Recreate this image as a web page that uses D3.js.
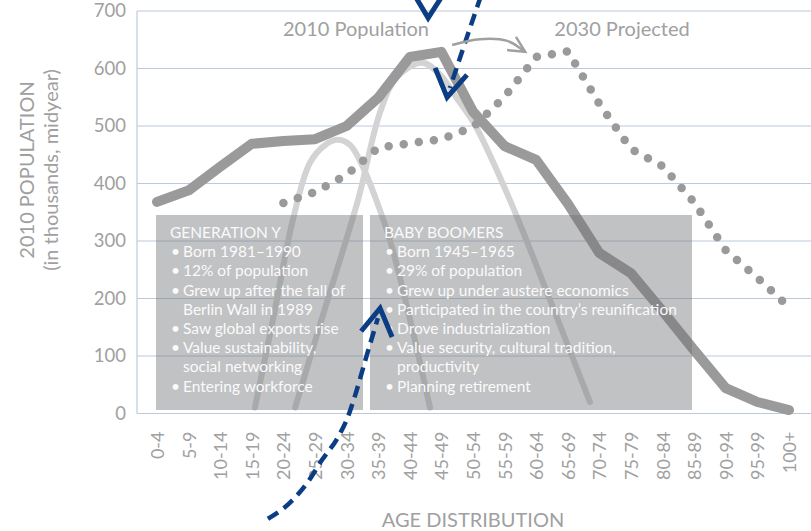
<!DOCTYPE html>
<html>
<head>
<meta charset="utf-8">
<script src="https://cdn.jsdelivr.net/npm/d3@7"></script>
<style>
  body { margin: 0; background: #fff; }
  svg { display: block; font-family: Lato, "Open Sans", sans-serif; }
</style>
</head>
<body>
<svg id="chart" width="811" height="531"></svg>
<script>
// Age groups on the horizontal axis
const ageGroups = ["0-4", "5-9", "10-14", "15-19", "20-24", "25-29", "30-34", "35-39", "40-44", "45-49",
  "50-54", "55-59", "60-64", "65-69", "70-74", "75-79", "80-84", "85-89", "90-94", "95-99", "100+"];

// 2010 population by age group (thousands, midyear)
const pop2010 = [368, 388, 429, 469, 474, 477, 500, 549, 620, 629,
  525, 465, 441, 365, 279, 244, 178, 110, 44, 20, 6];

// 2030 projection: the same cohorts twenty years on (no values for the under-20s)
const proj2030 = [null, null, null, null, 366, 385, 415, 462, 470, 477,
  498, 551, 620, 630, 538, 460, 430, 367, 284, 236, 185];

const yTicks = [0, 100, 200, 300, 400, 500, 600, 700];

// Generation arches: [age-group position, value]
const genYArch = [[3.10, 10], [3.73, 180], [4.30, 337], [4.84, 436], [5.32, 467], [5.70, 476],
  [6.11, 467], [6.49, 432], [6.90, 377], [7.37, 302], [8.01, 163], [8.64, 10]];
const boomerArch = [[4.37, 10], [5.35, 189], [6.36, 371], [7.06, 524], [7.59, 585], [8.39, 610],
  [8.96, 589], [9.53, 545], [10.06, 502], [11.17, 371], [12.44, 197], [13.70, 20]];

// Generation notes ("b" = bullet line, "c" = continuation, "h" = heading)
const genYNotes = [
  ["h", "GENERATION Y"],
  ["b", "Born 1981–1990"],
  ["b", "12% of population"],
  ["b", "Grew up after the fall of"],
  ["c", "Berlin Wall in 1989"],
  ["b", "Saw global exports rise"],
  ["b", "Value sustainability,"],
  ["c", "social networking"],
  ["b", "Entering workforce"]
];
const boomerNotes = [
  ["h", "BABY BOOMERS"],
  ["b", "Born 1945–1965"],
  ["b", "29% of population"],
  ["b", "Grew up under austere economics"],
  ["b", "Participated in the country’s reunification"],
  ["b", "Drove industrialization"],
  ["b", "Value security, cultural tradition,"],
  ["c", "productivity"],
  ["b", "Planning retirement"]
];

// Pointer paths in chart coordinates [age-group position, value]
const risePath = [[3.51, -183], [4.21, -155], [4.75, -121], [5.22, -81], [5.73, -41],
  [6.04, -6], [6.30, 37], [6.61, 96], [6.99, 166]];
const riseHead = [[6.46, 143], [7.06, 183], [7.44, 133]];
const fallPath = [[10.25, 726], [9.78, 650], [9.27, 566]];
const fallHead = [[8.80, 601], [9.18, 550], [9.81, 589]];
const topHead = [[8.20, 723], [8.58, 688], [8.99, 723]];
const shiftPath = [[9.34, 641], [10.22, 651], [11.08, 648], [11.65, 629]];
const shiftHead = [[11.08, 632], [11.65, 629], [11.36, 655]];

// ---- layout ----
const plot = { left: 137, right: 811, top: 11, bottom: 413.5 };
const gray = "#a0a0a0";
const gridColor = "#bccadb";
const blue = "#0b3d84";

const svg = d3.select("#chart");

const x = d3.scaleLinear().domain([0, ageGroups.length - 1]).range([157, 789]);
const y = d3.scaleLinear().domain([0, 700]).range([plot.bottom, plot.top]);

// gridlines
svg.append("g").selectAll("line").data(yTicks.filter(d => d > 0)).join("line")
  .attr("x1", plot.left).attr("x2", plot.right)
  .attr("y1", d => y(d)).attr("y2", d => y(d))
  .attr("stroke", gridColor).attr("stroke-width", 1.2);

// axes lines
svg.append("line").attr("x1", plot.left).attr("x2", plot.left)
  .attr("y1", plot.top).attr("y2", plot.bottom)
  .attr("stroke", gridColor).attr("stroke-width", 1.2);
svg.append("line").attr("x1", plot.left).attr("x2", plot.right)
  .attr("y1", plot.bottom).attr("y2", plot.bottom)
  .attr("stroke", gridColor).attr("stroke-width", 1.2);

// y tick labels
const yAxis = d3.axisLeft(y).tickValues(yTicks).tickSize(0).tickPadding(11);
const gy = svg.append("g").attr("transform", `translate(${plot.left},0)`).call(yAxis);
gy.select(".domain").remove();
gy.selectAll("text").attr("fill", gray).style("font-size", "18.5px").style("font-family", "Lato, sans-serif");

// x tick labels (rotated)
const xAxis = d3.axisBottom(x).tickValues(d3.range(ageGroups.length))
  .tickFormat(i => ageGroups[i]).tickSize(0);
const gx = svg.append("g").attr("transform", `translate(0,${plot.bottom})`).call(xAxis);
gx.select(".domain").remove();
gx.selectAll("text")
  .attr("fill", gray).style("font-size", "18px").style("font-family", "Lato, sans-serif")
  .attr("text-anchor", "end")
  .attr("transform", "translate(0,18) rotate(-90)")
  .attr("x", 0).attr("y", 0).attr("dy", "0.36em");

// axis titles
svg.append("text").attr("x", 473).attr("y", 527).attr("text-anchor", "middle")
  .attr("fill", gray).style("font-size", "20px").text("AGE DISTRIBUTION");
const yt = svg.append("g").attr("transform", "translate(0,170)");
yt.append("text").attr("transform", "translate(34,0) rotate(-90)").attr("text-anchor", "middle")
  .attr("fill", gray).style("font-size", "20px").text("2010 POPULATION");
yt.append("text").attr("transform", "translate(58,0) rotate(-90)").attr("text-anchor", "middle")
  .attr("fill", gray).style("font-size", "20px").text("(in thousands, midyear)");

// generation arches
const archLine = d3.line().x(d => x(d[0])).y(d => y(d[1])).curve(d3.curveCatmullRom.alpha(0.5));
[genYArch, boomerArch].forEach(a => {
  svg.append("path").attr("d", archLine(a)).attr("fill", "none")
    .attr("stroke", "#d3d3d3").attr("stroke-width", 6).attr("stroke-linecap", "round");
});

// 2030 projection (dotted)
const seriesLine = d3.line().defined(d => d != null).x((d, i) => x(i)).y(d => y(d));
svg.append("path").attr("d", seriesLine(proj2030)).attr("fill", "none")
  .attr("stroke", "#9a9a9a").attr("stroke-width", 8.5)
  .attr("stroke-linecap", "round").attr("stroke-dasharray", "0 15.2");

// 2010 population
svg.append("path").attr("d", seriesLine(pop2010)).attr("fill", "none")
  .attr("stroke", "#9b9a9b").attr("stroke-width", 10)
  .attr("stroke-linecap", "round").attr("stroke-linejoin", "round");

// series labels
svg.append("text").attr("x", 356).attr("y", 36).attr("text-anchor", "middle")
  .attr("fill", gray).style("font-size", "20px").text("2010 Population");
svg.append("text").attr("x", 622).attr("y", 36).attr("text-anchor", "middle")
  .attr("fill", gray).style("font-size", "20px").text("2030 Projected");

// note panels
function panel(x0, x1, notes) {
  const y0 = 215, y1 = 410;
  svg.append("rect").attr("x", x0).attr("y", y0).attr("width", x1 - x0).attr("height", y1 - y0)
    .attr("fill", "rgb(112,114,118)").attr("fill-opacity", 0.43);
  const g = svg.append("g").attr("fill", "#fafafa").style("font-size", "15.5px");
  notes.forEach((n, k) => {
    const by = 238 + k * 19.2;
    if (n[0] === "b") {
      g.append("text").attr("x", x0 + 15).attr("y", by).text("•");
    }
    g.append("text").attr("x", n[0] === "h" ? x0 + 14 : x0 + 27).attr("y", by).text(n[1]);
  });
}
panel(156, 363, genYNotes);
panel(370, 692, boomerNotes);

// blue pointers
const ptLine = d3.line().x(d => x(d[0])).y(d => y(d[1]));
const ptSmooth = d3.line().x(d => x(d[0])).y(d => y(d[1])).curve(d3.curveMonotoneX);
const ptCurve = d3.line().x(d => x(d[0])).y(d => y(d[1])).curve(d3.curveCatmullRom.alpha(0.5));
svg.append("path").attr("d", ptSmooth(risePath)).attr("fill", "none")
  .attr("stroke", blue).attr("stroke-width", 4.5).attr("stroke-dasharray", "12 7");
svg.append("path").attr("d", ptCurve(fallPath)).attr("fill", "none")
  .attr("stroke", blue).attr("stroke-width", 4.5).attr("stroke-dasharray", "12 7");
[riseHead, fallHead, topHead].forEach(p => {
  svg.append("path").attr("d", ptLine(p)).attr("fill", "none")
    .attr("stroke", blue).attr("stroke-width", 5).attr("stroke-linejoin", "miter");
});

// shift arrow between the two series labels
svg.append("path").attr("d", ptCurve(shiftPath)).attr("fill", "none")
  .attr("stroke", "#a0a0a0").attr("stroke-width", 2.5);
svg.append("path").attr("d", ptLine(shiftHead)).attr("fill", "none")
  .attr("stroke", "#a0a0a0").attr("stroke-width", 2.5);
</script>
</body>
</html>
